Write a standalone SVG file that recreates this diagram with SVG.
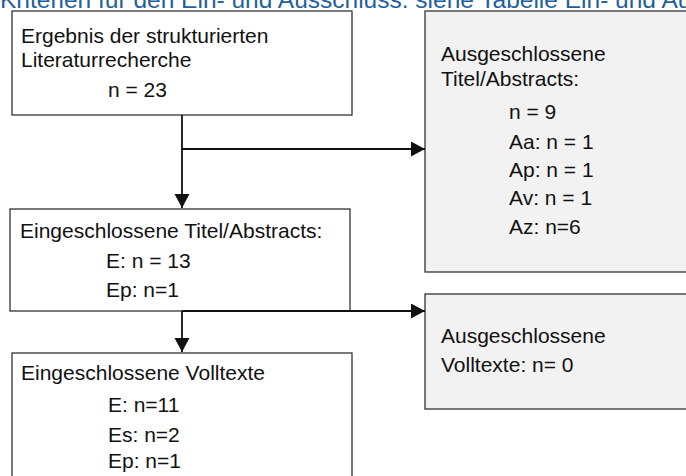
<svg xmlns="http://www.w3.org/2000/svg" width="686" height="476" viewBox="0 0 686 476">
<style>
.box{stroke:#333;stroke-width:1.3}
.w{fill:#fff}
.g{fill:#f2f2f2}
text{font-family:"Liberation Sans",Arial,sans-serif;font-size:21px;fill:#111}
.title{fill:#1f5f9f;font-size:24.5px}
.c{stroke:#111;stroke-width:1.8;fill:none}
</style>
<defs>
<marker id="ah" markerUnits="userSpaceOnUse" markerWidth="16" markerHeight="16" refX="14" refY="7.5" orient="auto">
<path d="M0,0 L14,7.5 L0,15 Z" fill="#111"/>
</marker>
</defs>
<text class="title" x="0" y="8">Kriterien für den Ein- und Ausschluss: siehe Tabelle Ein- und Au</text>
<g id="n1">
<rect class="box w" x="12" y="11" width="340" height="104"/>
<text x="21" y="43">Ergebnis der strukturierten</text>
<text x="21" y="67">Literaturrecherche</text>
<text x="108" y="97">n = 23</text>
</g>
<g id="n2">
<rect class="box g" x="425" y="11" width="270" height="261"/>
<text x="441" y="61">Ausgeschlossene</text>
<text x="441" y="86">Titel/Abstracts:</text>
<text x="509" y="119">n = 9</text>
<text x="509" y="149">Aa: n = 1</text>
<text x="509" y="177">Ap: n = 1</text>
<text x="509" y="205">Av: n = 1</text>
<text x="509" y="234">Az: n=6</text>
</g>
<g id="n3">
<rect class="box w" x="10" y="209" width="340" height="102"/>
<text x="20" y="238">Eingeschlossene Titel/Abstracts:</text>
<text x="106" y="268">E: n = 13</text>
<text x="106" y="297">Ep: n=1</text>
</g>
<g id="n4">
<rect class="box g" x="425" y="294" width="270" height="115"/>
<text x="441" y="343">Ausgeschlossene</text>
<text x="441" y="372">Volltexte: n= 0</text>
</g>
<g id="n5">
<rect class="box w" x="12" y="353" width="340" height="130"/>
<text x="21" y="380">Eingeschlossene Volltexte</text>
<text x="108" y="412">E: n=11</text>
<text x="108" y="442">Es: n=2</text>
<text x="108" y="468">Ep: n=1</text>
</g>
<g id="connectors">
<line class="c" x1="182" y1="115" x2="182" y2="208" marker-end="url(#ah)"/>
<line class="c" x1="181" y1="149" x2="425" y2="149" marker-end="url(#ah)"/>
<line class="c" x1="182" y1="311" x2="425" y2="311" marker-end="url(#ah)"/>
<line class="c" x1="182" y1="311" x2="182" y2="352" marker-end="url(#ah)"/>
</g>
</svg>
